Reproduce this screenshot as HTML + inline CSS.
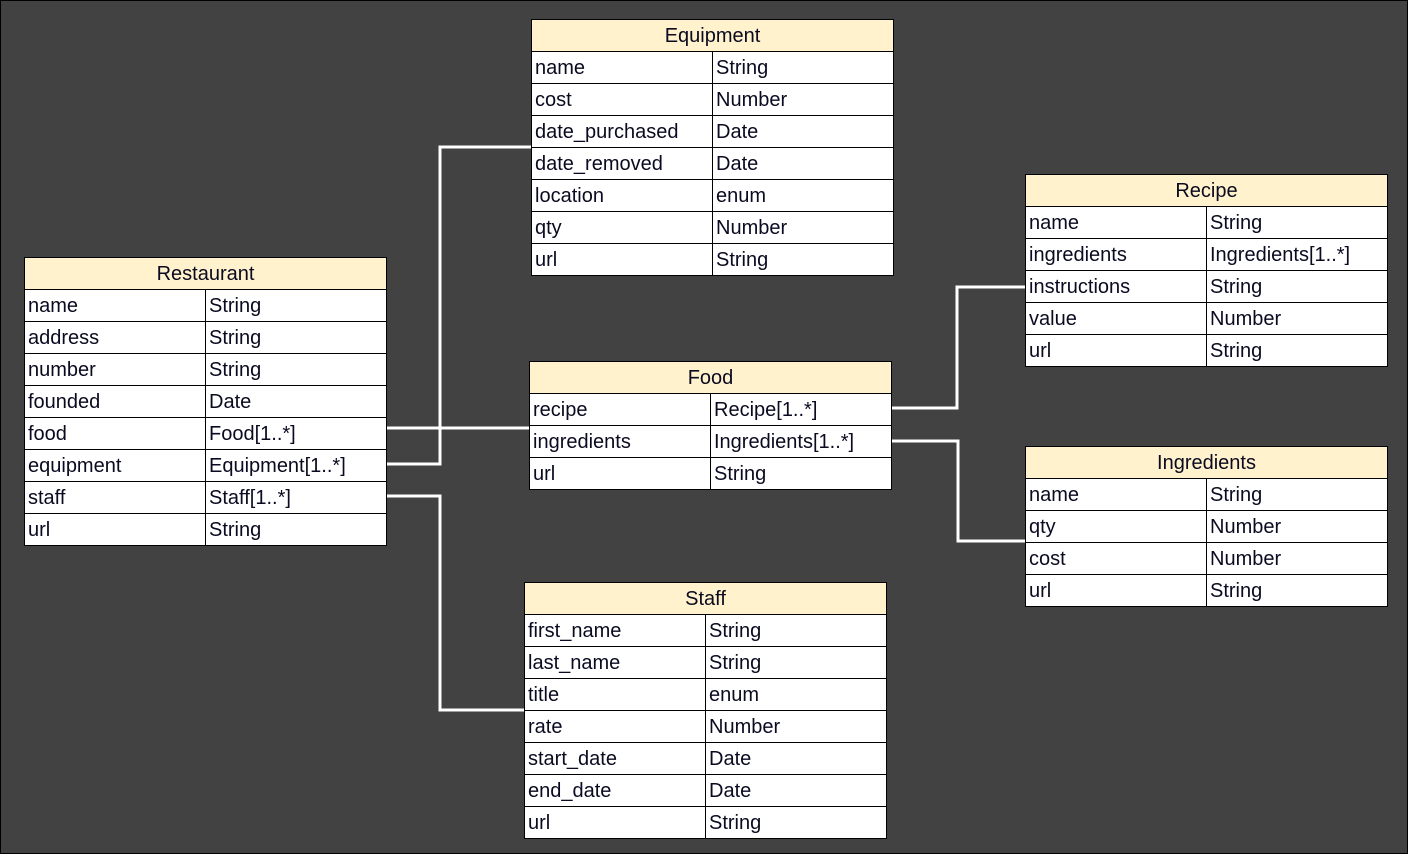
<!DOCTYPE html>
<html><head><style>
html,body{margin:0;padding:0}
body{width:1408px;height:854px;background:#424242;position:relative;overflow:hidden;font-family:"Liberation Sans",sans-serif;}
.frame{position:absolute;left:0;top:0;width:1406px;height:852px;border:1px solid #000;}
.t{position:absolute;border-collapse:collapse;background:#fff;}
.t td{border:1px solid #000;height:31px;padding:2px 0 0 3px;font-size:20px;color:#0a0a20;line-height:29px;white-space:nowrap;box-sizing:border-box;}
.t th{border:1px solid #000;height:32px;background:#fff2cc;font-weight:normal;font-size:20px;color:#0a0a20;padding:2px 0 0 0;box-sizing:border-box;}
svg{position:absolute;left:0;top:0}
</style></head><body>
<div class="frame"></div>
<svg width="1408" height="854"><g stroke="#fff" stroke-width="3" fill="none">
<polyline points="386,428 529,428"/>
<polyline points="386,464 440,464 440,147 531,147"/>
<polyline points="386,496 440,496 440,710 524,710"/>
<polyline points="891,408 957,408 957,287 1025,287"/>
<polyline points="891,441 958,441 958,541 1025,541"/>
</g></svg>

<table class="t" style="left:24px;top:257px;width:363px"><tr><th colspan="2">Restaurant</th></tr>
<tr><td style="width:181px">name</td><td>String</td></tr>
<tr><td>address</td><td>String</td></tr>
<tr><td>number</td><td>String</td></tr>
<tr><td>founded</td><td>Date</td></tr>
<tr><td>food</td><td>Food[1..*]</td></tr>
<tr><td>equipment</td><td>Equipment[1..*]</td></tr>
<tr><td>staff</td><td>Staff[1..*]</td></tr>
<tr><td>url</td><td>String</td></tr></table>

<table class="t" style="left:531px;top:19px;width:363px"><tr><th colspan="2">Equipment</th></tr>
<tr><td style="width:181px">name</td><td>String</td></tr>
<tr><td>cost</td><td>Number</td></tr>
<tr><td>date_purchased</td><td>Date</td></tr>
<tr><td>date_removed</td><td>Date</td></tr>
<tr><td>location</td><td>enum</td></tr>
<tr><td>qty</td><td>Number</td></tr>
<tr><td>url</td><td>String</td></tr></table>

<table class="t" style="left:529px;top:361px;width:363px"><tr><th colspan="2">Food</th></tr>
<tr><td style="width:181px">recipe</td><td>Recipe[1..*]</td></tr>
<tr><td>ingredients</td><td>Ingredients[1..*]</td></tr>
<tr><td>url</td><td>String</td></tr></table>

<table class="t" style="left:1025px;top:174px;width:363px"><tr><th colspan="2">Recipe</th></tr>
<tr><td style="width:181px">name</td><td>String</td></tr>
<tr><td>ingredients</td><td>Ingredients[1..*]</td></tr>
<tr><td>instructions</td><td>String</td></tr>
<tr><td>value</td><td>Number</td></tr>
<tr><td>url</td><td>String</td></tr></table>

<table class="t" style="left:1025px;top:446px;width:363px"><tr><th colspan="2">Ingredients</th></tr>
<tr><td style="width:181px">name</td><td>String</td></tr>
<tr><td>qty</td><td>Number</td></tr>
<tr><td>cost</td><td>Number</td></tr>
<tr><td>url</td><td>String</td></tr></table>

<table class="t" style="left:524px;top:582px;width:363px"><tr><th colspan="2">Staff</th></tr>
<tr><td style="width:181px">first_name</td><td>String</td></tr>
<tr><td>last_name</td><td>String</td></tr>
<tr><td>title</td><td>enum</td></tr>
<tr><td>rate</td><td>Number</td></tr>
<tr><td>start_date</td><td>Date</td></tr>
<tr><td>end_date</td><td>Date</td></tr>
<tr><td>url</td><td>String</td></tr></table>
</body></html>
